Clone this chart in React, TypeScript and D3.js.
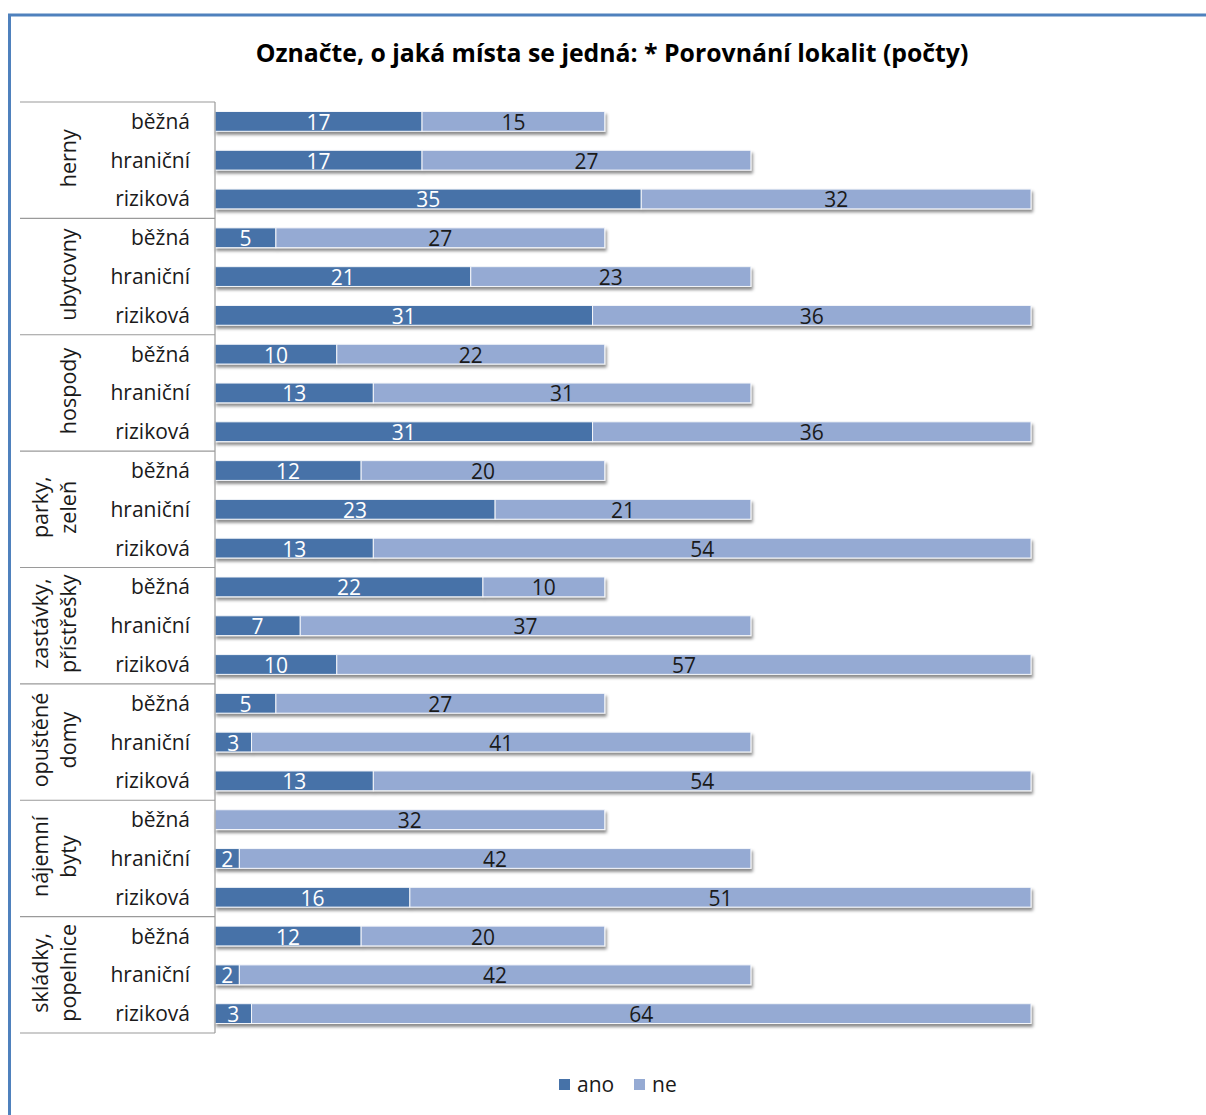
import React from "react";
import * as d3 from "d3";

const groups = [
  ["herny"],
  ["ubytovny"],
  ["hospody"],
  ["parky,", "zeleň"],
  ["zastávky,", "přístřešky"],
  ["opuštěné", "domy"],
  ["nájemní", "byty"],
  ["skládky,", "popelnice"],
];
const subCats = ["běžná", "hraniční", "riziková"];
const ano = [17, 17, 35, 5, 21, 31, 10, 13, 31, 12, 23, 13, 22, 7, 10, 5, 3, 13, 0, 2, 16, 12, 2, 3];
const ne = [15, 27, 32, 27, 23, 36, 22, 31, 36, 20, 21, 54, 10, 37, 57, 27, 41, 54, 32, 42, 51, 20, 42, 64];
const seriesNames = ["ano", "ne"];
const colors = ["#4672a8", "#95aad3"];
const title = "Označte, o jaká místa se jedná: * Porovnání lokalit (počty)";

const W = 1206;
const H = 1115;
const FONT = "'Open Sans', 'Noto Sans', sans-serif";

export default function App() {
  const rows = ano.map((a, i) => ({ key: String(i), a, n: ne[i], sub: subCats[i % 3] }));
  const x = d3.scaleLinear().domain([0, 67]).range([215, 1031]);
  const y = d3.scaleBand<string>().domain(rows.map((r) => r.key)).range([102, 1033]).paddingInner(0.49).paddingOuter(0.245);
  const bh = y.bandwidth();
  const groupH = (1033 - 102) / groups.length;
  const stack = d3.stack<any>().keys(["a", "n"])(rows as any);

  return (
    <svg width={W} height={H} style={{ position: "absolute", left: 0, top: 0, display: "block" }} fontFamily={FONT}>
      <defs>
        <filter id="sh" x="-5%" y="-50%" width="110%" height="250%">
          <feDropShadow dx="1.5" dy="3" stdDeviation="1.6" floodColor="#000" floodOpacity="0.45" />
        </filter>
      </defs>
      <rect x={0} y={0} width={W} height={H} fill="#fff" />
      <rect x={9.5} y={15} width={W + 20} height={H + 20} fill="#fff" stroke="#4f81bd" strokeWidth={3} />
      <text x={612} y={62} textAnchor="middle" fontSize={24.8} fontWeight="bold" fill="#000">
        {title}
      </text>

      {/* bars */}
      {rows.map((r, i) => (
        <g key={r.key} filter="url(#sh)">
          {stack.map((s, si) => {
            const d = s[i];
            const w = x(d[1]) - x(d[0]);
            if (w <= 0) return null;
            return (
              <rect key={si} x={x(d[0])} y={y(r.key)!} width={w} height={bh} fill={colors[si]} stroke="#f4f6fa" strokeWidth={1} />
            );
          })}
        </g>
      ))}
      {rows.map((r, i) =>
        stack.map((s, si) => {
          const d = s[i];
          const v = d[1] - d[0];
          if (v <= 0) return null;
          return (
            <text
              key={r.key + "-" + si}
              x={(x(d[0]) + x(d[1])) / 2}
              y={y(r.key)! + bh / 2 + 8.5}
              textAnchor="middle"
              fontSize={21}
              fill={si === 0 ? "#fff" : "#1a1a1a"}
            >
              {v}
            </text>
          );
        })
      )}

      {/* axis */}
      <line x1={215} x2={215} y1={102} y2={1033} stroke="#9a9a9a" strokeWidth={1.2} />
      {d3.range(groups.length + 1).map((g) => (
        <line key={g} x1={20} x2={215} y1={102 + g * groupH} y2={102 + g * groupH} stroke="#9a9a9a" strokeWidth={1.2} />
      ))}
      {rows.map((r) => (
        <text key={"t" + r.key} x={190} y={y(r.key)! + bh / 2 + 7.5} textAnchor="end" fontSize={21} fill="#1a1a1a">
          {r.sub}
        </text>
      ))}
      {groups.map((lines, g) => {
        const cy = 102 + g * groupH + groupH / 2 - 2;
        return (
          <g key={"g" + g}>
            {lines.map((ln, li) => {
              const bx = lines.length === 1 ? 76 : li === 0 ? 48 : 76;
              return (
                <text key={li} transform={`translate(${bx},${cy}) rotate(-90)`} textAnchor="middle" fontSize={21.5} fill="#1a1a1a">
                  {ln}
                </text>
              );
            })}
          </g>
        );
      })}

      {/* legend */}
      {seriesNames.map((s, i) => {
        const lx = i === 0 ? 559 : 634;
        return (
          <g key={s}>
            <rect x={lx} y={1079} width={11} height={11} fill={colors[i]} />
            <text x={lx + 18} y={1092} fontSize={21} fill="#1a1a1a">
              {s}
            </text>
          </g>
        );
      })}
    </svg>
  );
}
